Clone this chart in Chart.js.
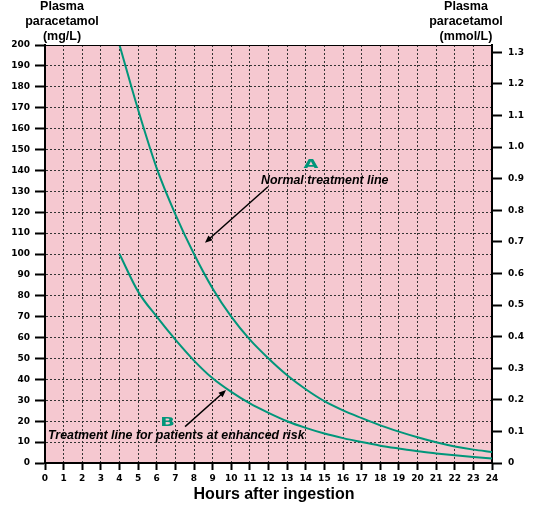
<!DOCTYPE html>
<html>
<head>
<meta charset="utf-8">
<script src="https://cdn.jsdelivr.net/npm/chart.js@4.4.0/dist/chart.umd.min.js"></script>
<style>
html,body{margin:0;padding:0;background:#fff;}
</style>
</head>
<body>
<canvas id="canvas" width="542" height="506"></canvas>
<script>
// values (mg/L at each hour)
const hours = [4,5,6,7,8,9,10,11,12,13,14,15,16,17,18,19,20,21,22,23,24]
const normalLine = [200,169,141,119,100,83.5,70,59,50,42,35.3,29.6,25.2,21.5,18,15,12.3,9.9,7.9,6.4,5.3]
const riskLine = [100,82,70,59,49,40.5,34,28.5,24,20,16.8,14.1,11.9,10,8.3,6.9,5.6,4.6,3.7,2.9,2.2]

const hourTicks = [0,1,2,3,4,5,6,7,8,9,10,11,12,13,14,15,16,17,18,19,20,21,22,23,24]
const mgTicks = [0,10,20,30,40,50,60,70,80,90,100,110,120,130,140,150,160,170,180,190,200]
const mmolTicks = [0,0.1,0.2,0.3,0.4,0.5,0.6,0.7,0.8,0.9,1.0,1.1,1.2,1.3]
const MG_PER_MMOL = 151.16

// annotations, in data units (hours, mg/L)
const notes = [
  {text:'Normal treatment line', x:11.6, y:135},
  {text:'Treatment line for patients at enhanced risk', x:0.16, y:12.9}
]
const arrows = [
  {from:[11.97,132.2], to:[8.59,105.4]},
  {from:[7.52,17.4], to:[9.72,34.9]}
]
const badges = [
  {text:'A', x:14.28, y:142.6},
  {text:'B', x:6.58, y:19.4}
]

const green = '#00967a'
const tickFont = {family:'DejaVu Sans', size:9, weight:'bold'}

function toPoints(ys){
  let pts=[]
  for(let i=0;i<hours.length;i++){
    pts.push({x:hours[i], y:ys[i]})
  }
  return pts
}

const extras = {
  id:'extras',
  beforeDraw(chart){
    const {ctx, chartArea:a} = chart
    ctx.save()
    ctx.fillStyle = '#f5c8d0'
    ctx.fillRect(a.left, a.top, a.right-a.left, a.bottom-a.top)
    ctx.restore()
  },
  afterDraw(chart){
    const {ctx, chartArea:a} = chart
    const sx = chart.scales.x, sy = chart.scales.y
    ctx.save()
    // top border
    ctx.strokeStyle = '#000'
    ctx.lineWidth = 1
    ctx.beginPath()
    ctx.moveTo(a.left, a.top+0.5)
    ctx.lineTo(a.right, a.top+0.5)
    ctx.stroke()

    // axis titles
    ctx.fillStyle = '#000'
    ctx.textAlign = 'center'
    ctx.textBaseline = 'middle'
    ctx.font = 'bold 12.5px "Liberation Sans", Arial, sans-serif'
    const leftT = ['Plasma','paracetamol','(mg/L)']
    const rightT = ['Plasma','paracetamol','(mmol/L)']
    for(let i=0;i<3;i++){
      ctx.fillText(leftT[i], a.left+17, 7+i*15)
      ctx.fillText(rightT[i], a.right-26, 7+i*15)
    }
    ctx.font = 'bold 16px "Liberation Sans", Arial, sans-serif'
    ctx.fillText('Hours after ingestion', 274, a.bottom+32)

    // notes
    ctx.textAlign = 'left'
    ctx.font = 'italic bold 12.4px "Liberation Sans", Arial, sans-serif'
    notes.forEach(n=>{
      ctx.fillText(n.text, sx.getPixelForValue(n.x), sy.getPixelForValue(n.y))
    })

    // arrows
    ctx.strokeStyle = '#000'
    ctx.fillStyle = '#000'
    ctx.lineWidth = 1.5
    arrows.forEach(ar=>{
      const x1 = sx.getPixelForValue(ar.from[0]), y1 = sy.getPixelForValue(ar.from[1])
      const x2 = sx.getPixelForValue(ar.to[0]), y2 = sy.getPixelForValue(ar.to[1])
      const ang = Math.atan2(y2-y1, x2-x1)
      const hl = 8
      ctx.beginPath()
      ctx.moveTo(x1,y1)
      ctx.lineTo(x2-Math.cos(ang)*hl*0.6, y2-Math.sin(ang)*hl*0.6)
      ctx.stroke()
      ctx.beginPath()
      ctx.moveTo(x2,y2)
      ctx.lineTo(x2-hl*Math.cos(ang-0.4), y2-hl*Math.sin(ang-0.4))
      ctx.lineTo(x2-hl*Math.cos(ang+0.4), y2-hl*Math.sin(ang+0.4))
      ctx.closePath()
      ctx.fill()
    })

    // A / B badges
    ctx.fillStyle = green
    ctx.textAlign = 'center'
    ctx.font = 'bold 12px "DejaVu Sans", sans-serif'
    badges.forEach(b=>{
      ctx.save()
      ctx.translate(sx.getPixelForValue(b.x), sy.getPixelForValue(b.y))
      ctx.scale(1.6,1)
      ctx.fillText(b.text, 0, 0)
      ctx.restore()
    })
    ctx.restore()
  }
}

const ctx = document.getElementById('canvas')

new Chart(ctx, {
  type:'line',
  data:{
    datasets:[
      {
        label:'Normal treatment line',
        data:toPoints(normalLine),
        borderColor:green,
        borderWidth:2,
        pointRadius:0,
        cubicInterpolationMode:'monotone',
        yAxisID:'y'
      },
      {
        label:'Treatment line for patients at enhanced risk',
        data:toPoints(riskLine),
        borderColor:green,
        borderWidth:2,
        pointRadius:0,
        cubicInterpolationMode:'monotone',
        yAxisID:'y'
      }
    ]
  },
  options:{
    responsive:false,
    animation:false,
    layout:{padding:{top:45}},
    plugins:{legend:{display:false}, tooltip:{enabled:false}},
    scales:{
      x:{
        type:'linear',
        min:0, max:24,
        afterBuildTicks: s => { s.ticks = hourTicks.map(v=>({value:v})) },
        afterFit: s => { s.height = 43 },
        ticks:{autoSkip:false, maxRotation:0, color:'#000', font:tickFont, padding:3},
        grid:{color:'#333', tickLength:7, tickColor:'#000', tickWidth:2, tickBorderDash:[]},
        border:{color:'#000', width:2, dash:[2,2]}
      },
      y:{
        position:'left',
        min:0, max:200,
        afterBuildTicks: s => { s.ticks = mgTicks.map(v=>({value:v})) },
        afterFit: s => { s.width = 45 },
        ticks:{autoSkip:false, color:'#000', font:tickFont, padding:5},
        grid:{color:'#333', tickLength:10, tickColor:'#000', tickWidth:2, tickBorderDash:[]},
        border:{color:'#000', width:2, dash:[2,2]}
      },
      y2:{
        position:'right',
        min:0, max:200/MG_PER_MMOL,
        afterBuildTicks: s => { s.ticks = mmolTicks.map(v=>({value:v})) },
        afterFit: s => { s.width = 50 },
        ticks:{autoSkip:false, color:'#000', font:tickFont, padding:6,
          callback: v => v===0 ? '0' : v.toFixed(1)},
        grid:{drawOnChartArea:false, tickLength:10, tickColor:'#000', tickWidth:2},
        border:{color:'#000', width:2}
      }
    }
  },
  plugins:[extras]
})
</script>
</body>
</html>
